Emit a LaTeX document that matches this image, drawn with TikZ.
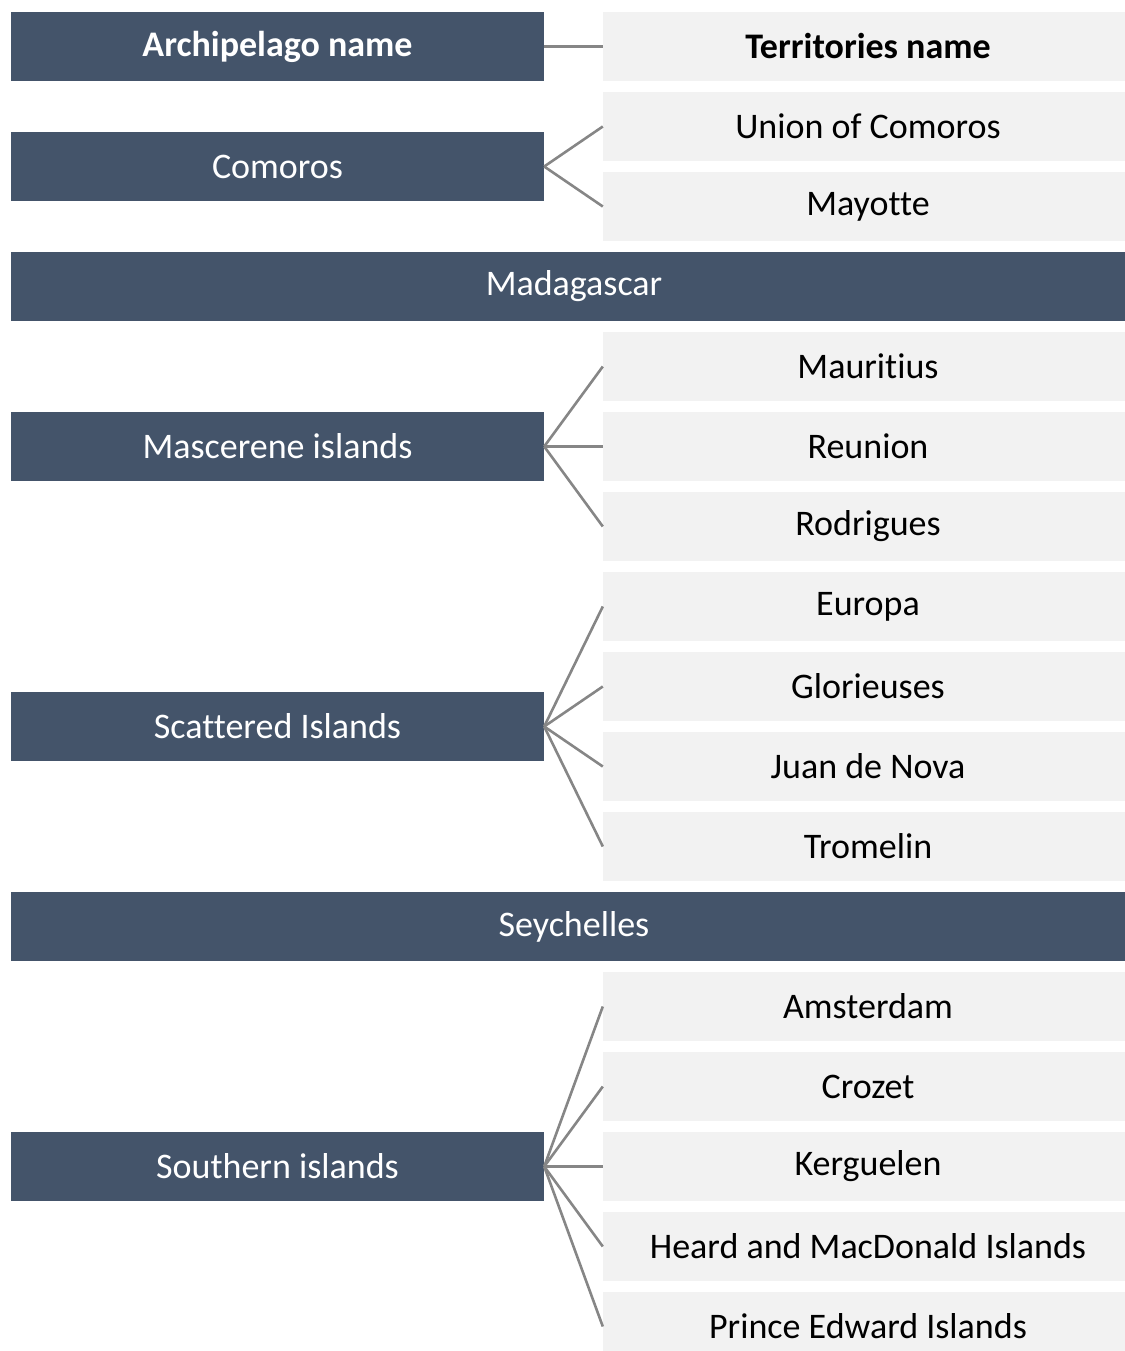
\documentclass[tikz,border=0pt]{standalone}
\usepackage{fontspec}
\setmainfont{Carlito}[Ligatures=NoCommon]
\definecolor{darkbox}{HTML}{44546A}
\definecolor{lightbox}{HTML}{F2F2F2}
\definecolor{linkgray}{HTML}{868686}
\begin{document}
\begin{tikzpicture}[x=1pt,y=-1pt,
  archbox/.style={fill=darkbox,text=white,minimum width=533pt,minimum height=69pt,inner sep=0pt,font=\fontsize{36}{42}\selectfont},
  widebox/.style={archbox,minimum width=1126pt},
  terrbox/.style={fill=lightbox,text=black,minimum width=530pt,minimum height=69pt,inner sep=0pt,font=\fontsize{36}{42}\selectfont},
  link/.style={draw=linkgray,line width=2.6pt}]
\useasboundingbox (0,0) rectangle (1124,1351);
% archipelago boxes
\node[archbox,font=\bfseries\fontsize{36}{42}\selectfont] (a0) at (277.5,46.5) {Archipelago name};
\node[archbox] (a1) at (277.5,166.5) {Comoros};
\node[widebox] (mad) at (574,286.5) {Madagascar};
\node[archbox] (a2) at (277.5,446.5) {Mascerene islands};
\node[archbox] (a3) at (277.5,726.5) {Scattered Islands};
\node[widebox] (sey) at (574,926.5) {Seychelles};
\node[archbox] (a4) at (277.5,1166.5) {Southern islands};
% territory boxes
\node[terrbox,font=\bfseries\fontsize{36}{42}\selectfont] (t0) at (868,46.5) {Territories name};
\node[terrbox] (t1) at (868,126.5) {Union of Comoros};
\node[terrbox] (t2) at (868,206.5) {Mayotte};
\node[terrbox] (t4) at (868,366.5) {Mauritius};
\node[terrbox] (t5) at (868,446.5) {Reunion};
\node[terrbox] (t6) at (868,526.5) {Rodrigues};
\node[terrbox] (t7) at (868,606.5) {Europa};
\node[terrbox] (t8) at (868,686.5) {Glorieuses};
\node[terrbox] (t9) at (868,766.5) {Juan de Nova};
\node[terrbox] (t10) at (868,846.5) {Tromelin};
\node[terrbox] (t12) at (868,1006.5) {Amsterdam};
\node[terrbox] (t13) at (868,1086.5) {Crozet};
\node[terrbox] (t14) at (868,1166.5) {Kerguelen};
\node[terrbox] (t15) at (868,1246.5) {Heard and MacDonald Islands};
\node[terrbox] (t16) at (868,1326.5) {Prince Edward Islands};
% connectors
\draw[link] (a0.east) -- (t0.west);
\foreach \t in {t1,t2} \draw[link] (a1.east) -- (\t.west);
\foreach \t in {t4,t5,t6} \draw[link] (a2.east) -- (\t.west);
\foreach \t in {t7,t8,t9,t10} \draw[link] (a3.east) -- (\t.west);
\foreach \t in {t12,t13,t14,t15,t16} \draw[link] (a4.east) -- (\t.west);
\end{tikzpicture}
\end{document}
